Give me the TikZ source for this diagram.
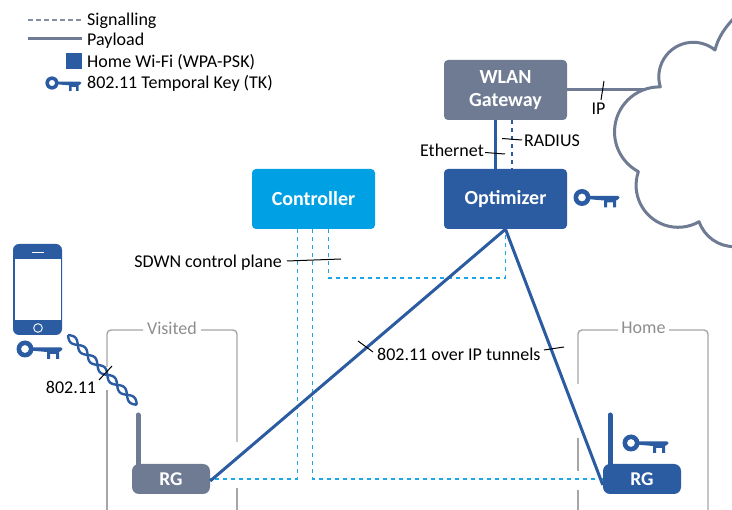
\documentclass[tikz,border=0pt]{standalone}
\usepackage{fontspec}
\setmainfont{Carlito}
\usetikzlibrary{calc}
\usetikzlibrary{positioning}

\definecolor{slategray}{HTML}{6E7B93}
\definecolor{homeblue}{HTML}{2B5BA1}
\definecolor{ctrlblue}{HTML}{00A1E4}
\definecolor{dashblue}{HTML}{1BA6E6}
\definecolor{framegray}{HTML}{A6A6A6}

\tikzset{
  box/.style={rounded corners=4pt,minimum width=123pt,minimum height=60pt,inner sep=0pt,
    align=center,text=white,font=\fontsize{20}{24}\selectfont\bfseries},
  router/.style={rounded corners=7pt,minimum width=78pt,minimum height=30pt,inner sep=0pt,
    text=white,font=\fontsize{19.5}{22}\selectfont\bfseries},
  txt/.style={inner sep=0pt,font=\fontsize{18}{21}\selectfont},
  frametxt/.style={txt,text=framegray!85!black},
  frame/.style={color=framegray,line width=1.4pt,rounded corners=4pt},
  tick/.style={color=black,line width=1pt},
  payload/.style={line width=3pt},
  ctrl/.style={color=dashblue,line width=1.8pt,dash pattern=on 4pt off 4pt},
  keyicon/.pic={
    \fill[even odd rule] (0,0) circle (8.5) (0,0) circle (4);
    \fill (7,-1.7) -- (36,-1.7) -- (37.5,0) -- (36,2) -- (34,3) -- (34,10) -- (31,10) -- (31,5)
      -- (25,5) -- (25,10) -- (22,10) -- (22,3) -- (7,1.7) -- cycle;
  }
}

\begin{document}
\begin{tikzpicture}[x=1pt,y=-1pt]
  \clip (0,0) rectangle (732,510);

  % Legende
  \coordinate (sigl) at (28,20);
  \coordinate (sigr) at (82,20);
  \coordinate (payl) at (28,39);
  \coordinate (payr) at (82,39);
  \draw[color=slategray!85,line width=1.2pt,dash pattern=on 5pt off 3pt] (sigl) -- (sigr);
  \draw[color=slategray,payload] (payl) -- (payr);
  \fill[homeblue] (66,53) rectangle (82,69);
  \pic[color=homeblue,scale=0.78] at (52,83) {keyicon};
  \foreach \y/\text in {20.5/Signalling,40.5/Payload,62/Home Wi-Fi (WPA-PSK),83.5/802.11 Temporal Key (TK)}
  \node[txt,anchor=west] (leg\y) at (87,\y) {\text};

  % Rahmen Visited / Home
  \draw[frame] (143,330) -- (107,330) -- (107,367);
  \draw[frame] (107,390) -- (107,515);
  \draw[frame] (201,330) -- (237,330) -- (237,442);
  \draw[frame] (237,488) -- (237,515);
  \draw[frame] (618,330) -- (578,330) -- (578,384);
  \draw[frame] (578,438) -- (578,471);
  \draw[frame] (578,490) -- (578,515);
  \draw[frame] (669,330) -- (708,330) -- (708,515);
  \node[frametxt] (visited) at (172,328) {Visited};
  \node[frametxt] (home) at (643.5,328) {Home};

  % Knoten
  \node[box,fill=slategray] (gateway) at (505.5,90) {WLAN\\[-1pt]Gateway};
  \node[box,fill=homeblue] (optimizer) at (505.5,199) {Optimizer};
  \node[box,fill=ctrlblue] (controller) at (313.5,199) {Controller};
  \node[router,fill=slategray] (rgvisited) at (171,479) {RG};
  \node[router,fill=homeblue] (rghome) at (642,479) {RG};

  % Antennen
  \coordinate (antv) at (138,415);
  \coordinate (anth) at (610,415);
  \draw[color=slategray,line width=5pt,line cap=round] (antv) -- (antv |- rgvisited.north);
  \draw[color=homeblue,line width=5pt,line cap=round] (anth) -- (anth |- rghome.north);

  % Wolke
  \draw[color=slategray,line width=3pt,line join=round]
    (738,14) .. controls (724,28) and (718,38) .. (715,50)
    arc (-51:-197:34.5)
    arc (-89:-242:45)
    arc (199:60:42)
    arc (161:90:37);
  \coordinate (cloudin) at (646,90);
  \draw[color=slategray,payload] (gateway.east |- cloudin) -- (cloudin);

  % Ethernet und RADIUS
  \draw[color=homeblue,payload] ([xshift=-10.5pt]gateway.south) -- ([xshift=-10.5pt]optimizer.north);
  \draw[color=homeblue,line width=1.5pt,dash pattern=on 4pt off 4pt] ([xshift=6.5pt]gateway.south) -- ([xshift=6.5pt]optimizer.north);

  % Kontrollebene
  \draw[ctrl] ([xshift=-16pt]controller.south) |- (rgvisited.east);
  \draw[ctrl] ([xshift=-1pt]controller.south) |- (rghome.west);
  \draw[ctrl] ([xshift=15pt]controller.south) -- ++(0,48.5) -| (optimizer.south);

  % Tunnel
  \draw[color=homeblue,payload] (optimizer.south) -- ([yshift=-2pt]rgvisited.east);
  \draw[color=homeblue,payload] (optimizer.south) -- ([yshift=-6pt]rghome.west);

  % Funkstrecke
  \begin{scope}[shift={(68,335)},rotate=-45.4]
    \draw[color=homeblue,line width=2.4pt,smooth,samples=120,domain=0:98] plot(\x,{3.4*sin(12.857*\x)});
    \draw[color=homeblue,line width=2.4pt,smooth,samples=120,domain=0:98] plot(\x,{-3.4*sin(12.857*\x)});
  \end{scope}

  % Schluessel
  \pic[color=homeblue] at (582,197.5) {keyicon};
  \pic[color=homeblue] at (25,349) {keyicon};
  \pic[color=homeblue] at (631,443) {keyicon};

  % Telefon
  \fill[homeblue,rounded corners=6pt] (13,244) rectangle (62,335);
  \fill[white] (15,259) rectangle (61,320);
  \draw[white,line width=0.9pt] (32,252) -- (44,252);
  \draw[white,line width=0.9pt] (38,328) circle (4.3);

  % Beschriftungen
  \foreach \xa/\ya/\xb/\yb in {604/81/601/100,502/138.5/522/140,485/152.5/505/154,287/261/341/259,358/341/373/352,544/350/564/347,99/380/112/366}
  \draw[tick] (\xa,\ya) -- (\xb,\yb);
  \node[txt] (iplabel) at (598.5,108.5) {IP};
  \node[txt,anchor=west] (radiuslabel) at (524,140.5) {RADIUS};
  \node[txt,anchor=east] (ethlabel) at (484,150.5) {Ethernet};
  \node[txt,anchor=east] (sdwnlabel) at (282,262.5) {SDWN control plane};
  \node[txt,anchor=west] (tunnellabel) at (377,354.5) {802.11 over IP tunnels};
  \node[txt] (wifilabel) at (71,387.5) {802.11};
\end{tikzpicture}
\end{document}
